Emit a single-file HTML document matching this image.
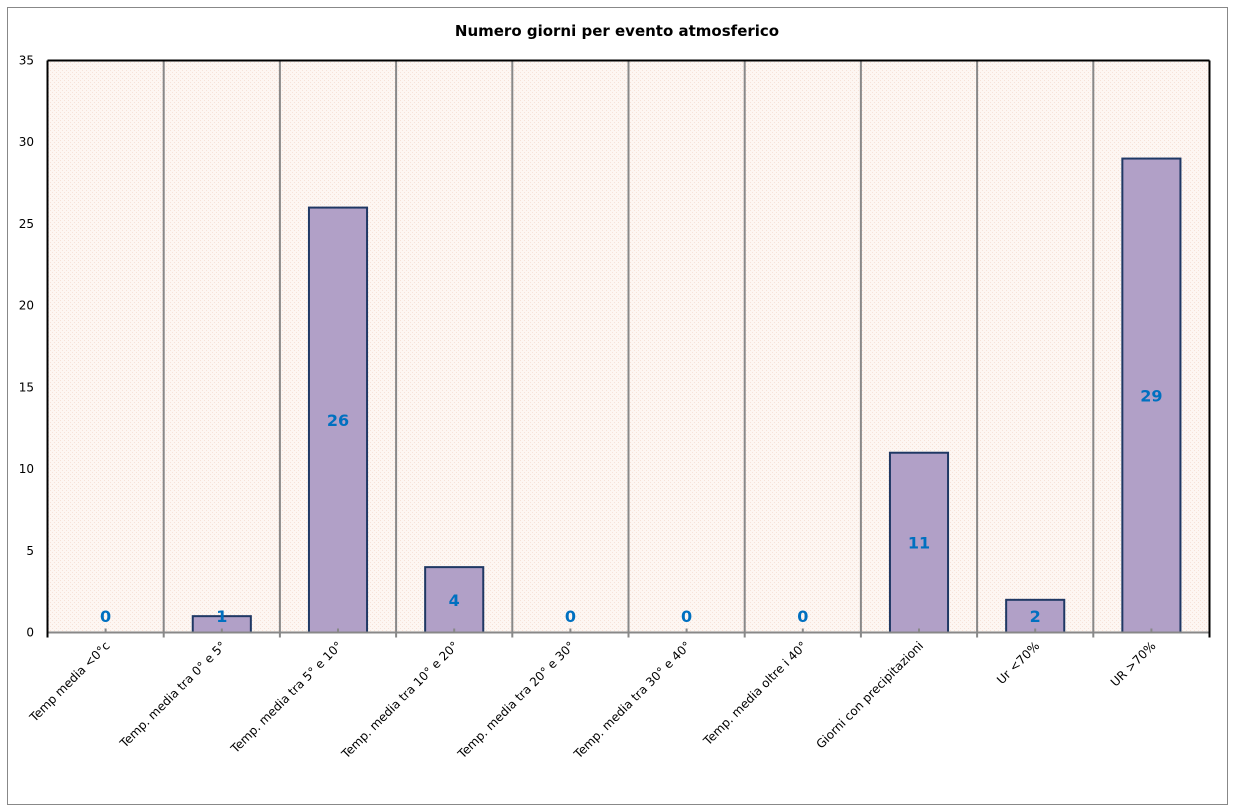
<!DOCTYPE html>
<html><head><meta charset="utf-8"><style>
body{margin:0;background:#fff;}
svg{display:block;font-family:"DejaVu Sans","Liberation Sans",sans-serif;}
</style></head><body>
<svg id="chart" width="1233" height="810">
<defs>
<pattern id="pat" width="4" height="4" patternUnits="userSpaceOnUse">
<rect width="4" height="4" fill="#fdf6f2"/>
<rect width="1" height="1" fill="#f6e2d8"/>
<rect x="2" y="2" width="1" height="1" fill="#f6e2d8"/>
</pattern>
</defs>
<rect x="7.5" y="7.5" width="1220" height="797" fill="#fff" stroke="#888"/>
<text x="617" y="36" text-anchor="middle" font-size="15" font-weight="bold">Numero giorni per evento atmosferico</text>
<rect x="47.5" y="60.5" width="1162" height="572" fill="url(#pat)"/>
<g id="grid"></g><g id="bars"></g><g id="labels"></g><g id="axes"></g>
</svg>
<script>
const categories=["Temp media <0°c","Temp. media tra 0° e 5°","Temp. media tra 5° e 10°","Temp. media tra 10° e 20°","Temp. media tra 20° e 30°","Temp. media tra 30° e 40°","Temp. media oltre i 40°","Giorni con precipitazioni","Ur  <70%","UR >70%"];
const values=[0,1,26,4,0,0,0,11,2,29];
const yTicks=[0,5,10,15,20,25,30,35];
const NS="http://www.w3.org/2000/svg";
const L=47.5,R=1209.5,T=60.5,B=632.5,yMax=35;
const bw=(R-L)/categories.length;
const x=i=>L+bw*i;
const y=v=>B-(B-T)*v/yMax;
function mk(tag,attrs,parent,text){const e=document.createElementNS(NS,tag);for(const k in attrs)e.setAttribute(k,attrs[k]);if(text!==undefined)e.textContent=text;document.getElementById(parent).appendChild(e);return e;}
for(let i=1;i<categories.length;i++){
 const g=mk('line',{x1:x(i),x2:x(i),y1:T,y2:B+5,stroke:'#888','stroke-width':2},'grid');
 
 
}
yTicks.forEach(t=>{
 const tx=mk('text',{x:34,y:y(t)+4,'text-anchor':'end','font-size':12,fill:'#000'},'axes',t);
 
 
});
values.forEach((v,i)=>{
 const cx=x(i)+bw/2;
 if(v>0){
  const r=mk('rect',{x:cx-bw/4,y:y(v),width:bw/2,height:B-y(v),fill:'#b1a0c7',stroke:'#1f3864','stroke-width':2},'bars');
  
  
 }
 const ly=Math.min((y(v)+B)/2,616);
 const t=mk('text',{x:cx,y:ly+6,'text-anchor':'middle','font-size':16,'font-weight':'bold',fill:'#0070c0'},'labels',v);
 
 
 const tk=mk('line',{x1:cx,x2:cx,y1:B-4,y2:B,stroke:'#888','stroke-width':2},'axes');
 
 
 const c=mk('text',{transform:`translate(${cx+5},${B+14}) rotate(-45)`,'text-anchor':'end','font-size':12,fill:'#000'},'axes',categories[i]);
 
 
});
const xa=mk('line',{x1:L,x2:R,y1:B,y2:B,stroke:'#888','stroke-width':2},'axes');


const ya=mk('line',{x1:L,x2:L,y1:T,y2:B+5,stroke:'#000','stroke-width':2},'axes');


const tb=mk('line',{x1:L,x2:R,y1:T,y2:T,stroke:'#000','stroke-width':2},'axes');


const rb=mk('line',{x1:R,x2:R,y1:T,y2:B+5,stroke:'#000','stroke-width':2},'axes');


</script>
</body></html>
